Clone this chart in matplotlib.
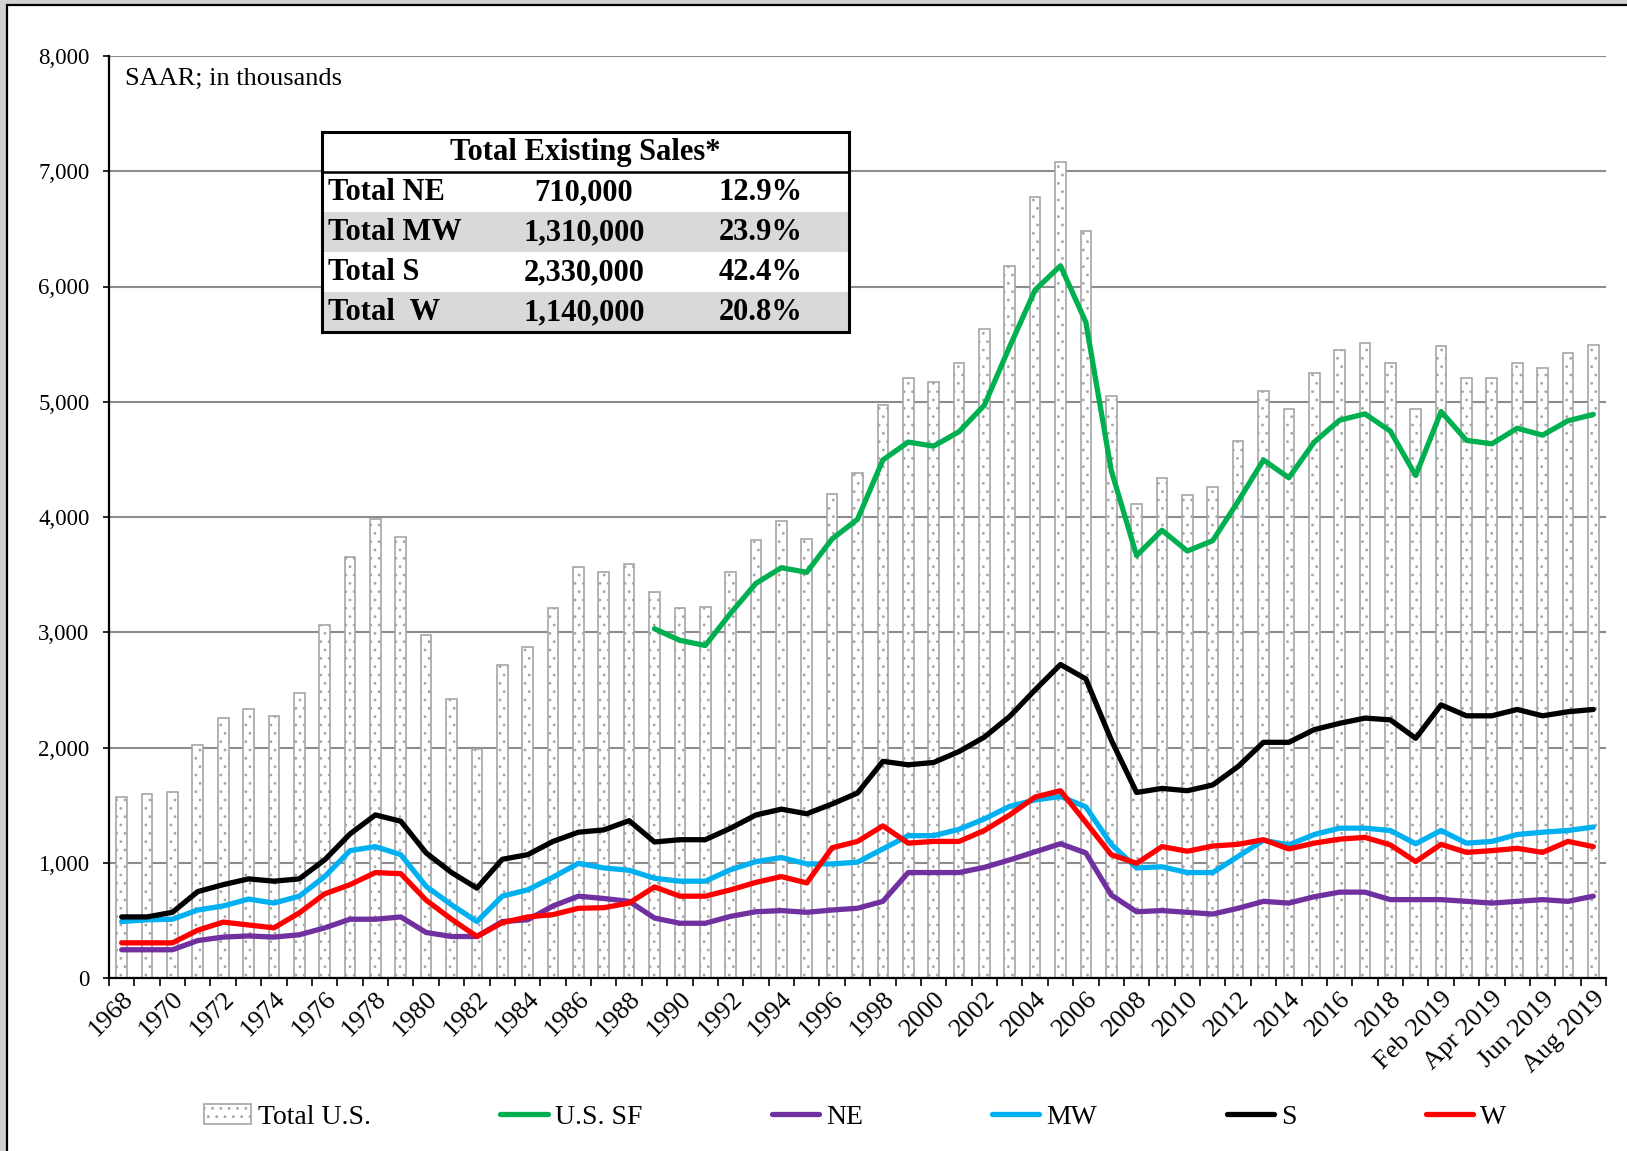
import numpy as np
import matplotlib.pyplot as plt
from matplotlib.patches import Rectangle
from matplotlib.ticker import MultipleLocator, StrMethodFormatter

plt.rcParams['font.family'] = ['Liberation Serif', 'DejaVu Serif']
plt.rcParams['hatch.linewidth'] = 0.8

# annual totals 1968-2018, then monthly 2019 (SAAR, thousands)
years = [str(y) for y in range(1968, 2019)]
months = ['Jan 2019', 'Feb 2019', 'Mar 2019', 'Apr 2019',
          'May 2019', 'Jun 2019', 'Jul 2019', 'Aug 2019']
periods = years + months

total_us = [1569, 1594, 1612, 2018, 2252, 2334, 2272, 2476, 3064, 3650,
            3986, 3827, 2973, 2419, 1990, 2719, 2868, 3214, 3565, 3526,
            3594, 3346, 3211, 3220, 3520, 3802, 3967, 3812, 4196, 4382,
            4970, 5205, 5174, 5335, 5632, 6175, 6778, 7076, 6478, 5050,
            4110, 4340, 4190, 4260, 4660, 5090, 4940, 5250, 5450, 5510,
            5340,
            4940, 5480, 5210, 5210, 5340, 5290, 5420, 5490]

# single-family series only starts in 1989
us_sf = [None] * 21 + [
    3030, 2930, 2885, 3165, 3425, 3560, 3520, 3810, 3980,
    4495, 4650, 4615, 4740, 4970, 5480, 5970, 6180, 5690, 4405,
    3665, 3885, 3705, 3795, 4135, 4495, 4340, 4650, 4840, 4895,
    4745,
    4360, 4915, 4665, 4635, 4770, 4710, 4835, 4890]

ne = [245, 245, 245, 325, 355, 365, 355, 375, 435, 510,
      510, 530, 395, 360, 360, 490, 505, 625, 710, 690,
      665, 520, 475, 475, 535, 575, 585, 570, 590, 605,
      665, 915, 915, 915, 960, 1025, 1095, 1165, 1085, 720,
      575, 585, 570, 555, 605, 665, 650, 705, 745, 745,
      680,
      680, 680, 665, 650, 665, 680, 665, 710]

mw = [490, 505, 510, 590, 625, 685, 650, 710, 880, 1105,
      1140, 1070, 795, 635, 490, 710, 765, 875, 995, 955,
      935, 865, 840, 840, 940, 1010, 1045, 990, 990, 1005,
      1120, 1235, 1235, 1290, 1380, 1490, 1545, 1575, 1485, 1160,
      955, 965, 915, 915, 1055, 1195, 1155, 1245, 1300, 1300,
      1280,
      1165, 1280, 1170, 1185, 1245, 1265, 1280, 1310]

south = [530, 530, 570, 750, 810, 860, 840, 860, 1025, 1250,
         1415, 1360, 1085, 915, 780, 1030, 1070, 1185, 1265, 1285,
         1365, 1180, 1200, 1200, 1300, 1415, 1465, 1425, 1510, 1605,
         1880, 1850, 1870, 1965, 2090, 2270, 2500, 2720, 2595, 2065,
         1610, 1645, 1625, 1675, 1835, 2045, 2045, 2155, 2210, 2255,
         2240,
         2080, 2370, 2275, 2275, 2330, 2275, 2310, 2330]

west = [305, 305, 305, 415, 485, 460, 435, 565, 730, 810,
        915, 905, 675, 510, 360, 480, 530, 550, 605, 610,
        650, 790, 710, 710, 765, 830, 880, 825, 1130, 1185,
        1320, 1170, 1185, 1185, 1280, 1415, 1570, 1625, 1350, 1070,
        995, 1140, 1100, 1145, 1160, 1200, 1120, 1170, 1205, 1220,
        1155,
        1010, 1160, 1090, 1105, 1125, 1090, 1185, 1140]

# latest month breakdown for the inset table
table_regions = ['Total NE', 'Total MW', 'Total S', 'Total  W']
table_sales = [710000, 1310000, 2330000, 1140000]

fig = plt.figure(figsize=(16.27, 11.51), dpi=100)
fig.patch.set_facecolor('#d2d2d2')
fig.patches.append(Rectangle((7 / 1627, -0.05), 1.1, 1.05 - 5 / 1151,
                             transform=fig.transFigure, facecolor='white',
                             edgecolor='black', linewidth=1.6, zorder=-10))

ax = fig.add_axes([109 / 1627, 1 - 978 / 1151, 1497 / 1627, 922 / 1151])
ax.set_facecolor('none')
x = np.arange(len(periods))

bars = ax.bar(x, total_us, width=0.42, color='white', edgecolor='#a6a6a6',
              linewidth=1.2, hatch='..', zorder=2)

def as_line(vals):
    return np.array([np.nan if v is None else v for v in vals], dtype=float)

handles = [bars]
labels = ['Total U.S.']
series = [(us_sf, '#00b050', 'U.S. SF'),
          (ne, '#7030a0', 'NE'),
          (mw, '#00b0f0', 'MW'),
          (south, '#000000', 'S'),
          (west, '#ff0000', 'W')]
for vals, col, name in series:
    ln, = ax.plot(x, as_line(vals), color=col, lw=3.8,
                  solid_joinstyle='round', solid_capstyle='round', zorder=3)
    handles.append(ln)
    labels.append(name)

ax.set_xlim(-0.5, len(periods) - 0.5)
ax.set_ylim(0, 8000)
ax.yaxis.set_major_locator(MultipleLocator(1000))
ax.yaxis.set_major_formatter(StrMethodFormatter('{x:,.0f}'))
ax.grid(axis='y', color='#8c8c8c', lw=1.5)
ax.set_axisbelow(True)

for side in ['top', 'right']:
    ax.spines[side].set_visible(False)
for side in ['left', 'bottom']:
    ax.spines[side].set_linewidth(1.6)
    ax.spines[side].set_color('black')

ax.tick_params(axis='y', length=4, width=1.2, pad=10, labelsize=16.5)
ax.set_xticks(x[::2])
ax.set_xticklabels(periods[::2], rotation=45, ha='right',
                   rotation_mode='anchor', fontsize=19)
ax.tick_params(axis='x', which='major', length=0, pad=7)
ax.set_xticks(np.arange(-0.5, len(periods), 1), minor=True)
ax.tick_params(axis='x', which='minor', length=6, width=1.2)

fig.text(125 / 1627, 1 - 79 / 1151, 'SAAR; in thousands', fontsize=19,
         va='center', ha='left')

# inset summary table
tab = fig.add_axes([322 / 1627, 1 - 332 / 1151, 527 / 1627, 200 / 1151])
tab.set_xlim(0, 1)
tab.set_ylim(5, 0)
tab.axis('off')
tab.add_patch(Rectangle((0, 0), 1, 5, facecolor='white', edgecolor='none'))
for r in (2, 4):
    tab.add_patch(Rectangle((0, r), 1, 1, facecolor='#d9d9d9', edgecolor='none'))
tab.add_patch(Rectangle((0, 0), 1, 5, fill=False, edgecolor='black',
                        linewidth=2.2, clip_on=False))
tab.plot([0, 1], [1, 1], color='black', lw=1.8)

tab.text(0.5, 0.52, 'Total Existing Sales*', ha='center', va='center',
         fontsize=22, fontweight='bold')
total_latest = sum(table_sales)
for i, (name, val) in enumerate(zip(table_regions, table_sales)):
    yy = i + 1.52
    tab.text(0.012, yy, name, ha='left', va='center', fontsize=22,
             fontweight='bold')
    tab.text(0.497, yy, f'{val:,}', ha='center', va='center', fontsize=22,
             fontweight='bold')
    tab.text(0.832, yy, f'{val / total_latest * 100:.1f}%', ha='center',
             va='center', fontsize=22, fontweight='bold')

fig.legend(handles, labels, ncol=6, loc='center',
           bbox_to_anchor=(0.5255, 1 - 1117 / 1151), frameon=False,
           fontsize=20, handlelength=1.7, handletextpad=0.25,
           columnspacing=4.66)

fig.savefig('out.png', dpi=100, facecolor=fig.get_facecolor())
